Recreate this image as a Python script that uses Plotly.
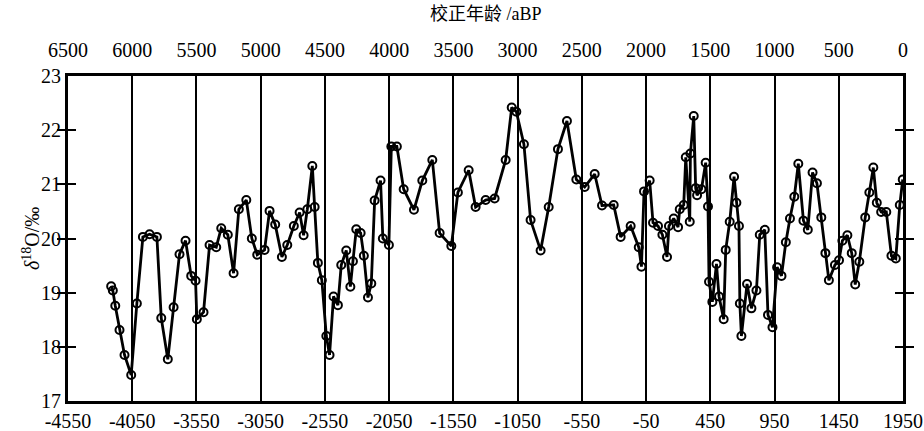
import plotly.graph_objects as go

# Calendar year (negative = BC) and delta 18O (per mil)
year = [-4214, -4201, -4182, -4149, -4110, -4058, -4014, -3967, -3915, -3858,
        -3824, -3773, -3728, -3682, -3635, -3591, -3557, -3547, -3495, -3448,
        -3396, -3357, -3306, -3261, -3220, -3162, -3119, -3077, -3020, -2981,
        -2937, -2885, -2843, -2792, -2747, -2716, -2687, -2648, -2630, -2605,
        -2574, -2539, -2514, -2483, -2449, -2423, -2384, -2352, -2332, -2306,
        -2272, -2247, -2215, -2189, -2163, -2117, -2099, -2052, -2033, -1990,
        -1937, -1857, -1792, -1714, -1657, -1566, -1515, -1431, -1377, -1299,
        -1229, -1143, -1096, -1060, -1001, -949, -871, -808, -736, -666,
        -593, -528, -450, -393, -302, -248, -170, -107, -86, -66,
        -22, 4, 43, 77, 113, 128, 165, 199, 212, 243,
        259, 290, 295, 321, 336, 347, 381, 414, 432, 440,
        466, 498, 518, 554, 570, 601, 635, 653, 673, 680,
        692, 736, 770, 809, 835, 874, 899, 934, 970, 1004,
        1038, 1070, 1104, 1135, 1175, 1209, 1246, 1280, 1314, 1346,
        1373, 1420, 1452, 1478, 1517, 1551, 1578, 1610, 1656, 1688,
        1719, 1746, 1780, 1820, 1860, 1894, 1925, 1948]
d18o = [19.12, 19.04, 18.76, 18.31, 17.85, 17.48, 18.80, 20.03, 20.08, 20.03,
        18.53, 17.77, 18.73, 19.71, 19.96, 19.31, 19.22, 18.51, 18.64, 19.88,
        19.84, 20.19, 20.07, 19.36, 20.54, 20.71, 20.00, 19.70, 19.79, 20.51,
        20.26, 19.66, 19.88, 20.23, 20.48, 20.06, 20.54, 21.34, 20.58, 19.55,
        19.23, 18.20, 17.85, 18.93, 18.77, 19.51, 19.78, 19.11, 19.58, 20.17,
        20.10, 19.68, 18.91, 19.17, 20.70, 21.07, 20.00, 19.88, 21.70, 21.70,
        20.91, 20.53, 21.07, 21.45, 20.10, 19.86, 20.85, 21.26, 20.58, 20.71,
        20.74, 21.45, 22.42, 22.34, 21.74, 20.34, 19.78, 20.58, 21.65, 22.17,
        21.09, 20.95, 21.19, 20.61, 20.62, 20.03, 20.23, 19.84, 19.48, 20.87,
        21.07, 20.29, 20.23, 20.07, 19.66, 20.23, 20.37, 20.21, 20.54, 20.62,
        21.50, 20.31, 21.57, 22.26, 20.93, 20.80, 20.91, 21.40, 20.59, 19.20,
        18.83, 19.53, 18.93, 18.51, 19.79, 20.31, 21.14, 20.66, 20.23, 18.80,
        18.20, 19.16, 18.71, 19.04, 20.07, 20.16, 18.59, 18.36, 19.47, 19.31,
        19.93, 20.37, 20.77, 21.38, 20.33, 20.16, 21.22, 21.02, 20.39, 19.73,
        19.23, 19.51, 19.60, 19.96, 20.06, 19.73, 19.15, 19.57, 20.39, 20.85,
        21.31, 20.66, 20.49, 20.49, 19.68, 19.63, 20.62, 21.09]

x_ticks = list(range(-4550, 1951, 500))
top_labels = [str(1950 - v) for v in x_ticks]
y_ticks = [17, 18, 19, 20, 21, 22, 23]

SERIF = "Liberation Serif, Times New Roman, serif"

fig = go.Figure()
fig.add_trace(go.Scatter(
    x=year, y=d18o, mode="lines+markers",
    line=dict(color="black", width=2.8),
    marker=dict(symbol="circle-open", size=8, color="black", line=dict(width=2, color="black")),
    showlegend=False, hoverinfo="x+y"))
# invisible trace to activate top axis
fig.add_trace(go.Scatter(x=[x_ticks[0], x_ticks[-1]], y=[17, 17], xaxis="x2",
                         mode="markers", marker=dict(opacity=0), showlegend=False,
                         hoverinfo="skip"))

fig.update_layout(
    width=924, height=431, autosize=False,
    margin=dict(l=68, r=21, t=76, b=30, autoexpand=False),
    paper_bgcolor="white", plot_bgcolor="white",
    font=dict(family=SERIF, size=20, color="black"),
    xaxis=dict(range=[-4550, 1950], tickmode="array", tickvals=x_ticks,
               ticktext=[str(v) for v in x_ticks], automargin=False,
               showgrid=True, gridcolor="black", gridwidth=2,
               showline=True, linecolor="black", linewidth=3, mirror=True,
               ticks="", zeroline=False, ticklabelstandoff=0,
               tickfont=dict(family=SERIF, size=20)),
    xaxis2=dict(range=[-4550, 1950], overlaying="x", side="top", matches="x",
                tickmode="array", tickvals=x_ticks, ticktext=top_labels,
                automargin=False, ticklabelstandoff=14,
                showgrid=False, ticks="", showline=False, zeroline=False,
                tickfont=dict(family=SERIF, size=20)),
    yaxis=dict(range=[17, 23], tickmode="array", tickvals=y_ticks, automargin=False,
               showgrid=False, showline=True, linecolor="black", linewidth=3,
               mirror="allticks", ticks="inside", ticklen=8, tickwidth=2,
               tickcolor="black", zeroline=False, tickfont=dict(family=SERIF, size=20)),
)

fig.add_annotation(text="<i>δ</i><sup>18</sup>O/‰", xref="paper", yref="paper",
                   x=-0.045, y=0.5, xanchor="center", yanchor="middle", textangle=-90,
                   showarrow=False, font=dict(family=SERIF, size=20))
fig.add_annotation(text="校正年龄 /aBP", xref="paper", yref="paper",
                   x=0.5, y=1.0, yshift=62, xanchor="center", yanchor="middle",
                   showarrow=False,
                   font=dict(family="Liberation Serif, Noto Sans CJK SC", size=18))

fig.write_html("out.html")
